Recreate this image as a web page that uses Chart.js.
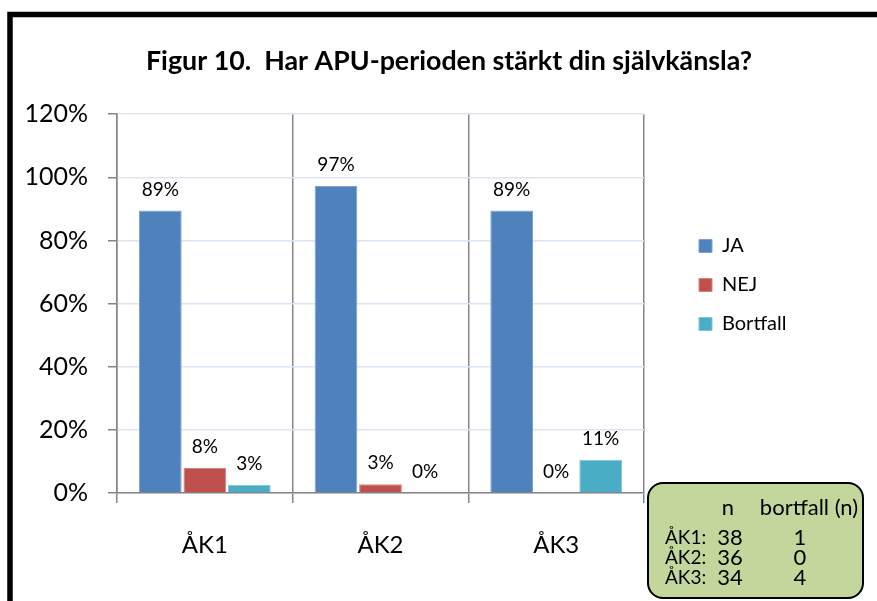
<!DOCTYPE html>
<html>
<head>
<meta charset="utf-8">
<script src="https://cdn.jsdelivr.net/npm/chart.js@4.4.0/dist/chart.umd.min.js"></script>
<style>
  html, body { margin: 0; padding: 0; background: #fff; }
</style>
</head>
<body>
<canvas id="chart" width="877" height="601"></canvas>
<script>
// Categories and series (percent of respondents)
const categories = ["ÅK1", "ÅK2", "ÅK3"];
const jaValues = [89.47, 97.22, 89.47];
const nejValues = [7.89, 2.78, 0];
const bortfallValues = [2.63, 0, 10.53];
const yTicks = [0, 20, 40, 60, 80, 100, 120];

// Sample sizes for the green box
const boxHeader = ["n", "bortfall (n)"];
const sampleN = [38, 36, 34];
const sampleBortfall = [1, 0, 4];

const titleText = "Figur 10.  Har APU-perioden stärkt din självkänsla?";

// Percent labels above each bar
const barLabels = {
  id: "barLabels",
  afterDatasetsDraw(chart) {
    const ctx = chart.ctx;
    ctx.save();
    ctx.font = "19px Lato";
    ctx.fillStyle = "#000";
    ctx.textAlign = "center";
    ctx.textBaseline = "middle";
    chart.data.datasets.forEach((ds, i) => {
      chart.getDatasetMeta(i).data.forEach((bar, j) => {
        ctx.fillText(Math.round(ds.data[j]) + "%", bar.x, bar.y - 21);
      });
    });
    ctx.restore();
  }
};

// Move legend and title where the original has them
const placeBoxes = {
  id: "placeBoxes",
  afterLayout(chart) {
    const lg = chart.legend;
    const dy = 217 - lg.top;
    lg.top += dy; lg.bottom += dy;
    const dx = 680 - lg.left;
    lg.left += dx; lg.right += dx;
    const t = chart.titleBlock;
    const tx = 449 - (t.left + t.right) / 2;
    t.left += tx; t.right += tx;
  }
};

// Black outer frame and the green sample-size box
const frame = {
  id: "frame",
  beforeDraw(chart) {
    const ctx = chart.ctx;
    ctx.save();
    ctx.fillStyle = "#fff";
    ctx.fillRect(0, 0, chart.width, chart.height);
    ctx.restore();
  },
  afterDraw(chart) {
    const ctx = chart.ctx;
    ctx.save();
    ctx.strokeStyle = "#000";
    ctx.lineWidth = 5.5;
    ctx.strokeRect(10, 14.5, 1000, 1000);

    // rounded green box
    const x = 648, y = 483, w = 215, h = 115, r = 15;
    ctx.beginPath();
    ctx.moveTo(x + r, y);
    ctx.arcTo(x + w, y, x + w, y + h, r);
    ctx.arcTo(x + w, y + h, x, y + h, r);
    ctx.arcTo(x, y + h, x, y, r);
    ctx.arcTo(x, y, x + w, y, r);
    ctx.closePath();
    ctx.fillStyle = "#C3D69B";
    ctx.fill();
    ctx.lineWidth = 2;
    ctx.stroke();

    ctx.fillStyle = "#000";
    ctx.textBaseline = "middle";
    ctx.textAlign = "center";
    ctx.font = "22px Lato";
    ctx.fillText(boxHeader[0], 728, 508);
    ctx.fillText(boxHeader[1], 809, 508);
    categories.forEach((c, i) => {
      const ry = 538 + i * 20;
      ctx.textAlign = "left";
      ctx.font = "19px Lato";
      ctx.fillText(c + ":", 665, ry);
      ctx.textAlign = "center";
      ctx.font = "22px Lato";
      ctx.fillText(String(sampleN[i]), 730, ry);
      ctx.fillText(String(sampleBortfall[i]), 800, ry);
    });
    ctx.restore();
  }
};

const chart = new Chart(document.getElementById("chart"), {
  type: "bar",
  data: {
    labels: categories,
    datasets: [
      { label: "JA", data: jaValues, backgroundColor: "#4F81BD", borderColor: "#7FA2D2", borderWidth: 1 },
      { label: "NEJ", data: nejValues, backgroundColor: "#C0504D", borderColor: "#D58380", borderWidth: 1 },
      { label: "Bortfall", data: bortfallValues, backgroundColor: "#4BACC6", borderColor: "#81C5D7", borderWidth: 1 }
    ]
  },
  options: {
    responsive: false,
    animation: false,
    events: [],
    devicePixelRatio: 1,
    datasets: { bar: { barPercentage: 0.96, categoryPercentage: 0.76 } },
    layout: { padding: { left: 8, right: 115, top: 19, bottom: 0 } },
    plugins: {
      title: {
        display: true,
        text: titleText,
        color: "#000",
        font: { family: "Lato", size: 26.8, weight: "bold" },
        padding: { top: 26, bottom: 37 }
      },
      legend: {
        position: "right",
        align: "start",
        labels: {
          boxWidth: 13,
          boxHeight: 13,
          padding: 19,
          color: "#000",
          font: { family: "Lato", size: 20 }
        }
      },
      tooltip: { enabled: false }
    },
    scales: {
      x: {
        grid: { offset: true, color: "#868686", lineWidth: 1.5, tickLength: 10 },
        border: { color: "#868686", width: 1.5 },
        ticks: { color: "#000", font: { family: "Lato", size: 24 }, padding: 28 },
        afterFit: s => { s.height = 108; }
      },
      y: {
        min: 0,
        max: 120,
        afterBuildTicks: s => { s.ticks = yTicks.map(v => ({ value: v })); },
        grid: { color: "#DCE5F4", tickColor: "#868686", tickLength: 9, lineWidth: 1.5 },
        border: { color: "#868686", width: 1.5 },
        ticks: { color: "#000", font: { family: "Lato", size: 25 }, padding: 20, callback: v => v + "%" },
        afterFit: s => { s.width = 109; }
      }
    }
  },
  plugins: [barLabels, placeBoxes, frame]
});

// keep plot right edge where the original has it
chart.options.layout.padding.right = 877 - 644 - chart.legend.width;
chart.update();
</script>
</body>
</html>
